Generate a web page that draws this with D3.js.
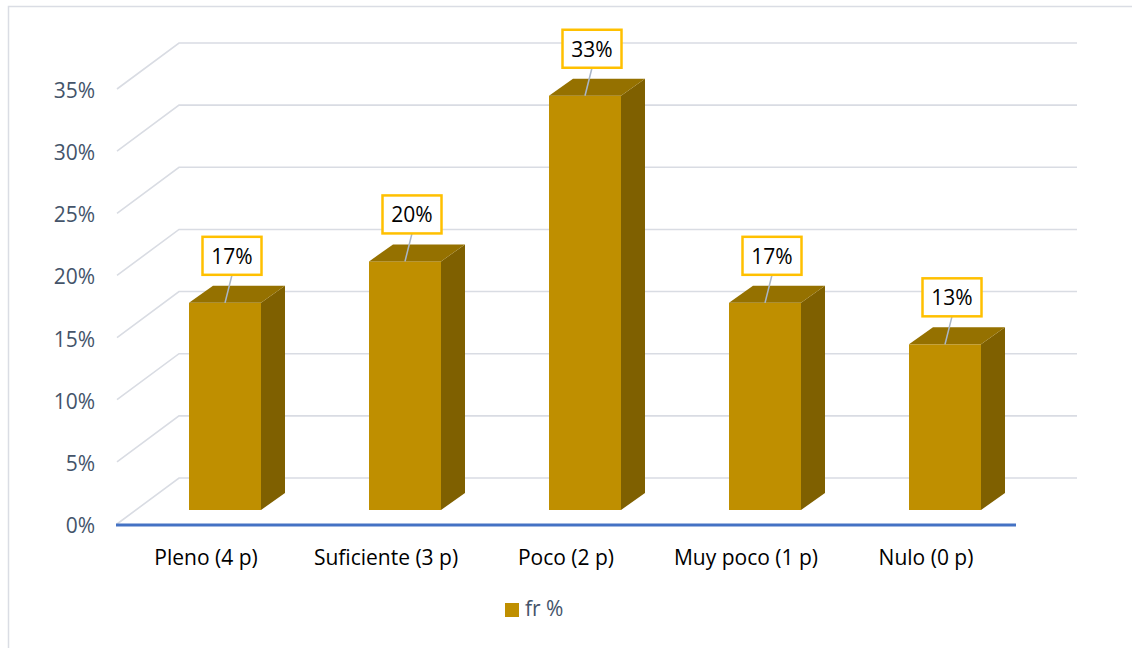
<!DOCTYPE html>
<html>
<head>
<meta charset="utf-8">
<script src="https://cdn.jsdelivr.net/npm/d3@7"></script>
<style>
  html, body { margin: 0; padding: 0; background: #ffffff; }
  svg { display: block; }
  text { font-family: "Open Sans", "DejaVu Sans", sans-serif; }
</style>
</head>
<body>
<svg id="chart" width="1132" height="648"></svg>
<script>
// ---- data ----
const categories = ["Pleno (4 p)", "Suficiente (3 p)", "Poco (2 p)", "Muy poco (1 p)", "Nulo (0 p)"];
const values = [0.1667, 0.20, 0.3333, 0.1667, 0.1333];
const yTicks = [0, 0.05, 0.10, 0.15, 0.20, 0.25, 0.30, 0.35];
const seriesName = "fr %";

// ---- layout ----
const W = 1132, H = 648;
const svg = d3.select("#chart");
svg.append("rect").attr("width", W).attr("height", H).attr("fill", "#ffffff");
svg.append("rect").attr("x", 8.5).attr("y", 6.5).attr("width", 1200).attr("height", 700)
  .attr("fill", "none").attr("stroke", "#dadde4").attr("stroke-width", 1.5);

const x = d3.scaleBand().domain(categories).range([116, 1016]).paddingInner(0.6).paddingOuter(0.3);
const y = d3.scaleLinear().domain([0, 0.35]).range([524, 89]);

const BACK_DX = 62, BACK_DY = -46;   // back wall offset
const FACE_DX = 19, FACE_DY = -14;   // bar front face offset
const DEP_DX = 24, DEP_DY = -17;     // bar depth
const gridRight = 1077;

const fmt = d3.format(".0%");
const gridColor = "#d9dce3";

// gridlines (side wall diagonal + back wall)
const grid = svg.append("g");
yTicks.forEach(t => {
  const fy = y(t);
  grid.append("path")
    .attr("d", `M117,${fy} L${117 + BACK_DX},${fy + BACK_DY} L${gridRight},${fy + BACK_DY}`)
    .attr("fill", "none").attr("stroke", gridColor).attr("stroke-width", 1.6);
});

// y labels
svg.append("g").selectAll("text").data(yTicks).join("text")
  .attr("x", 95).attr("y", d => y(d) + 9)
  .attr("text-anchor", "end")
  .attr("font-size", 21).attr("fill", "#44546a")
  .text(d => fmt(d));

// horizontal axis line
svg.append("line").attr("x1", 116).attr("x2", 1016).attr("y1", y(0) + 1).attr("y2", y(0) + 1)
  .attr("stroke", "#4472c4").attr("stroke-width", 3);

// bars
const colFront = "#bf8f00", colSide = "#7f6000", colTop = "#957100";
const bars = svg.append("g");
categories.forEach((c, i) => {
  const x0 = x(c) + FACE_DX, x1 = x0 + x.bandwidth();
  const top = y(values[i]) + FACE_DY, bot = y(0) + FACE_DY;
  bars.append("rect").attr("x", x0).attr("y", top).attr("width", x1 - x0).attr("height", bot - top)
    .attr("fill", colFront);
  bars.append("path")
    .attr("d", `M${x1},${top} L${x1 + DEP_DX},${top + DEP_DY} L${x1 + DEP_DX},${bot + DEP_DY} L${x1},${bot} Z`)
    .attr("fill", colSide);
  bars.append("path")
    .attr("d", `M${x0},${top} L${x1},${top} L${x1 + DEP_DX},${top + DEP_DY} L${x0 + DEP_DX},${top + DEP_DY} Z`)
    .attr("fill", colTop);
});

// data labels
const labels = svg.append("g");
const boxW = 59, boxH = 38, labelGap = 28, labelShift = 7;
categories.forEach((c, i) => {
  const cx = x(c) + FACE_DX + x.bandwidth() / 2;
  const top = y(values[i]) + FACE_DY;
  const bx = cx + labelShift;
  const bb = top - labelGap;
  labels.append("line").attr("x1", bx).attr("y1", bb).attr("x2", cx).attr("y2", top)
    .attr("stroke", "#a9b6c8").attr("stroke-width", 1.5);
  labels.append("rect").attr("x", bx - boxW / 2).attr("y", bb - boxH).attr("width", boxW).attr("height", boxH)
    .attr("fill", "#ffffff").attr("stroke", "#ffc000").attr("stroke-width", 2.5);
  labels.append("text").attr("x", bx).attr("y", bb - 11)
    .attr("text-anchor", "middle").attr("font-size", 21).attr("fill", "#000000")
    .text(fmt(values[i]));
});

// category labels
svg.append("g").selectAll("text").data(categories).join("text")
  .attr("x", d => x(d) + x.bandwidth() / 2).attr("y", 565)
  .attr("text-anchor", "middle").attr("font-size", 21).attr("fill", "#000000")
  .text(d => d);

// legend
svg.append("rect").attr("x", 505).attr("y", 603).attr("width", 14).attr("height", 14).attr("fill", colFront);
svg.append("text").attr("x", 525).attr("y", 616).attr("font-size", 21).attr("fill", "#44546a").text(seriesName);
</script>
</body>
</html>
